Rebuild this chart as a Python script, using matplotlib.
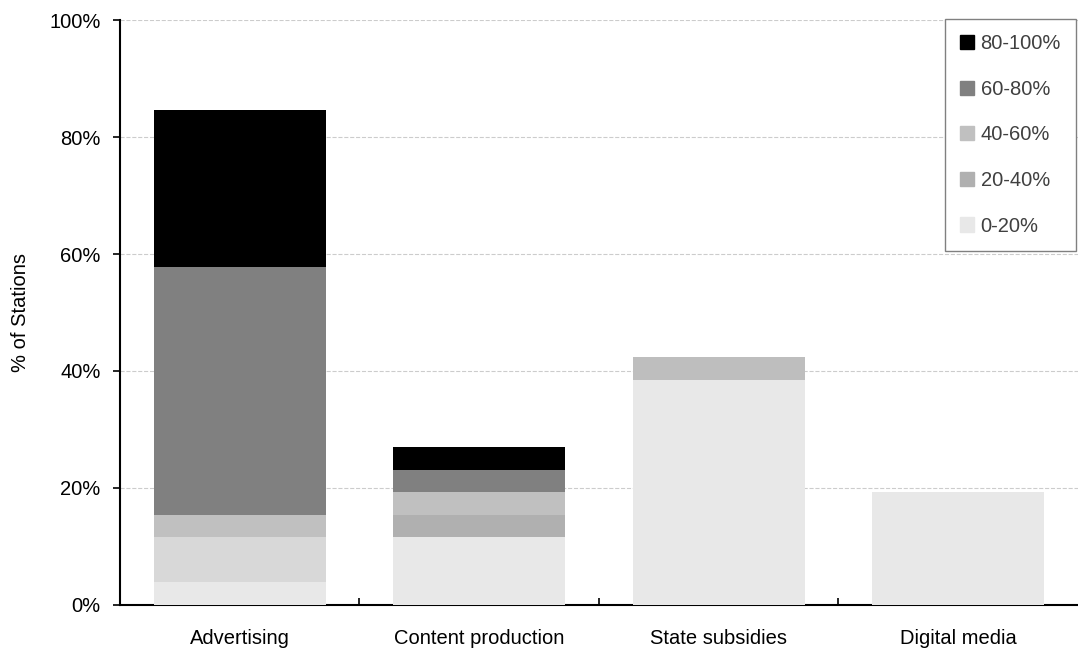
import numpy as np
import matplotlib
matplotlib.use("Agg")
import matplotlib.pyplot as plt
from matplotlib.patches import Patch

plt.rcParams['font.family'] = ['Liberation Sans', 'DejaVu Sans']

categories = ["Advertising", "Content production", "State subsidies", "Digital media"]
# share of stations (%) per revenue band, stacked bottom to top
seg_values = [
    [3.85, 7.69, 3.85, 42.31, 26.92],
    [11.54, 3.85, 3.85, 3.85, 3.85],
    [38.46, 3.85],
    [19.23],
]
seg_colors = [
    ["#e8e8e8", "#d8d8d8", "#c0c0c0", "#808080", "#000000"],
    ["#e8e8e8", "#b0b0b0", "#c0c0c0", "#808080", "#000000"],
    ["#e8e8e8", "#bebebe"],
    ["#e8e8e8"],
]
legend_labels = ["80-100%", "60-80%", "40-60%", "20-40%", "0-20%"]
legend_colors = ["#000000", "#808080", "#c0c0c0", "#b0b0b0", "#e8e8e8"]

fs = 14.5

fig = plt.figure(figsize=(10.78, 6.48), dpi=100)
ax = fig.add_axes([0.1113, 0.0664, 0.8887, 0.9027])

x = np.arange(len(categories))
for i in range(len(categories)):
    bottom = 0
    for v, c in zip(seg_values[i], seg_colors[i]):
        ax.bar(x[i], v, bottom=bottom, width=0.72, color=c, zorder=3)
        bottom += v

ax.set_xlim(-0.5, len(categories) - 0.5)
ax.set_ylim(0, 100)
ax.set_yticks(np.arange(0, 101, 20))
ax.set_yticklabels([f"{t}%" for t in range(0, 101, 20)], fontsize=fs)
ax.yaxis.grid(True, linestyle="--", color="#cccccc", linewidth=0.8, zorder=0)
ax.set_xticks(x)
ax.set_xticklabels(categories, fontsize=fs)
ax.tick_params(axis="x", length=0, pad=17)
ax.set_xticks(np.arange(0.5, len(categories) - 1), minor=True)
ax.tick_params(axis="x", which="minor", direction="in", length=5, width=1.2)
ax.tick_params(axis="y", length=5, width=1.2, pad=9)
ax.set_ylabel("% of Stations", fontsize=fs, labelpad=14)

for s in ["top", "right"]:
    ax.spines[s].set_visible(False)
for s in ["left", "bottom"]:
    ax.spines[s].set_linewidth(1.5)

handles = [Patch(color=c) for c in legend_colors]
leg = ax.legend(handles, legend_labels, loc="upper right", bbox_to_anchor=(1.0, 1.005),
                fontsize=fs, labelspacing=1.32, handlelength=0.7, handleheight=0.7,
                handletextpad=0.3, borderpad=0.75, borderaxespad=0.1,
                fancybox=False, framealpha=1)
leg.get_frame().set_edgecolor("#808080")
for t in leg.get_texts():
    t.set_color("#404040")

fig.savefig("out.png", dpi=100)
